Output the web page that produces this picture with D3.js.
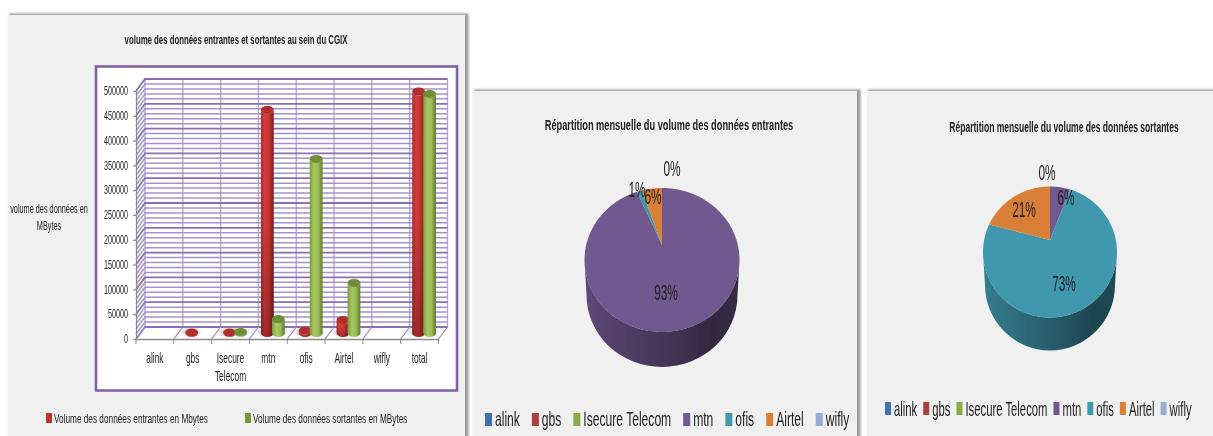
<!DOCTYPE html>
<html><head><meta charset="utf-8">
<script src="https://cdn.jsdelivr.net/npm/d3@7"></script>
<style>html,body{margin:0;padding:0;background:#fff;overflow:hidden}svg{display:block}text{font-family:"Liberation Sans",Arial,sans-serif;fill:#222}</style>
</head><body><svg id="c" width="1213" height="436"></svg>
<script>
// ---------- data ----------
const barCategories = ["alink","gbs","Isecure Telecom","mtn","ofis","Airtel","wifly","total"];
const incoming = [0,1000,1000,450000,5000,26000,0,487000];
const outgoing = [0,0,2000,28000,351000,101000,0,482000];
const barTitle = "volume des données entrantes et sortantes au sein du CGIX";
const yAxisTitle = ["volume des données en","MBytes"];
const seriesNames = ["Volume des données entrantes en Mbytes","Volume des données sortantes en MBytes"];
const yTicks = [0,50000,100000,150000,200000,250000,300000,350000,400000,450000,500000];
const yMinorTicks = d3.range(0,500001,10000);

const pieCategories = ["alink","gbs","Isecure Telecom","mtn","ofis","Airtel","wifly"];
const pieColors = ["#3f72ab","#b03f3c","#8aab47","#71588f","#4198af","#d97f37","#97abd3"];
const incomingShare = [0,0,0,93,1.4,5.6,0];
const outgoingShare = [0,0,0,6,73,21,0];
const pieTitleIn = "Répartition mensuelle du volume des données entrantes";
const pieTitleOut = "Répartition mensuelle du volume des données sortantes";

// ---------- helpers ----------
const svg = d3.select("#c");
const defs = svg.append("defs");
const blur = defs.append("filter").attr("id","soft").attr("filterUnits","userSpaceOnUse").attr("x",0).attr("y",0).attr("width",1213).attr("height",436);
blur.append("feGaussianBlur").attr("stdDeviation",0.55);
const sh = defs.append("filter").attr("id","sh").attr("x","-5%").attr("y","-5%").attr("width","110%").attr("height","110%");
sh.append("feGaussianBlur").attr("stdDeviation",1);
const sh2 = defs.append("filter").attr("id","sh2").attr("x","-60%").attr("y","-60%").attr("width","220%").attr("height","220%");
sh2.append("feGaussianBlur").attr("stdDeviation",1.6);
const root = svg.append("g").attr("filter","url(#soft)");

function label(g,str,x,y,size,squeeze,opt={}){
  const t=g.append("text").attr("transform",`translate(${x},${y}) scale(${squeeze},1)`).attr("font-size",size)
    .attr("text-anchor",opt.anchor||"middle").attr("dominant-baseline",opt.baseline||"central")
    .attr("font-weight",opt.weight||"normal").text(str);
  return t.node().getComputedTextLength()*squeeze;
}
function panel(x,y,w,h){
  root.append("rect").attr("x",x+1).attr("y",y-1.5).attr("width",w+2.5).attr("height",h+4).attr("fill","#999").attr("filter","url(#sh)");
  root.append("rect").attr("x",x).attr("y",y).attr("width",w).attr("height",h).attr("fill","#f0f0f0");
}
function hGrad(id,stops){
  const g=defs.append("linearGradient").attr("id",id).attr("x1",0).attr("x2",1).attr("y1",0).attr("y2",0);
  stops.forEach(([o,c])=>g.append("stop").attr("offset",o).attr("stop-color",c));
}

// ---------- left panel : 3D cylinders ----------
panel(8,15,457,425);
label(root,barTitle,236,39,13,0.60,{weight:"bold"});
root.append("rect").attr("x",96).attr("y",66.5).attr("width",361).attr("height",324).attr("fill","#fff").attr("stroke","#8064a2").attr("stroke-width",2.6);
yAxisTitle.forEach((s,i)=>label(root,s,49,209+i*17,12,0.61));

const dx=9, dy=-12;
const x=d3.scaleBand().domain(barCategories).range([136,438.5]);
const y=d3.scaleLinear().domain([0,500000]).range([339,91]);
const plot=root.append("g");

// floor
const line=d3.line();
plot.append("path").attr("d",line([[x.range()[0],y(0)],[x.range()[1],y(0)],[x.range()[1]+dx,y(0)+dy],[x.range()[0]+dx,y(0)+dy]])+"Z").attr("fill","#fff");

// wall gridlines
const bandEdges=barCategories.map(c=>x(c)).concat(x.range()[1]);
plot.selectAll(".wallv").data(bandEdges).join("line")
  .attr("x1",d=>d+dx).attr("x2",d=>d+dx).attr("y1",y(0)+dy).attr("y2",y(500000)+dy)
  .attr("stroke","#b5a7d0").attr("stroke-width",1.4);
plot.selectAll(".minor").data(yMinorTicks).join("path")
  .attr("d",v=>line([[x.range()[0],y(v)],[x.range()[0]+dx,y(v)+dy],[x.range()[1]+dx,y(v)+dy]]))
  .attr("fill","none").attr("stroke",v=>v%50000===0?"#8a6fb0":"#a792c8").attr("stroke-width",v=>v%50000===0?1.8:1.5);
plot.selectAll(".floor").data(bandEdges).join("line")
  .attr("x1",d=>d).attr("x2",d=>d+dx).attr("y1",y(0)).attr("y2",y(0)+dy)
  .attr("stroke","#9a86bc").attr("stroke-width",1.2);

// axes
const axL=plot.append("g").attr("transform",`translate(${x.range()[0]},0)`).call(d3.axisLeft(y).tickValues(yTicks).tickSize(3).tickFormat(d3.format("d")));
axL.selectAll("path,line").attr("stroke","#8c8c8c").attr("stroke-width",1.2);
axL.selectAll("text").remove();
yTicks.forEach(v=>label(plot,d3.format("d")(v),128,y(v),12,0.6,{anchor:"end"}));
const axB=plot.append("g").attr("transform",`translate(0,${y(0)})`).call(d3.axisBottom(x).tickSize(0).tickFormat(""));
axB.selectAll("path").attr("stroke","#8c8c8c").attr("stroke-width",1.4);
plot.selectAll(".xt").data(bandEdges).join("line").attr("x1",d=>d).attr("x2",d=>d).attr("y1",y(0)).attr("y2",y(0)+5).attr("stroke","#8c8c8c");
barCategories.forEach(c=>{
  const parts=c.split(" ");
  parts.forEach((p,i)=>label(plot,p,x(c)+x.bandwidth()/2,358+i*18,14,0.6));
});

// cylinders
hGrad("redH",[[0,"#a92d2c"],[0.3,"#d83c3a"],[0.6,"#c93533"],[1,"#7c1f1e"]]);
hGrad("greenH",[[0,"#7d9a3f"],[0.35,"#a8c85f"],[0.65,"#9bbb59"],[1,"#607a2d"]]);
const shadeV=defs.append("linearGradient").attr("id","shadeV").attr("x1",0).attr("x2",0).attr("y1",0).attr("y2",1);
shadeV.append("stop").attr("offset",0).attr("stop-color","#000").attr("stop-opacity",0);
shadeV.append("stop").attr("offset",0.5).attr("stop-color","#000").attr("stop-opacity",0.02);
shadeV.append("stop").attr("offset",1).attr("stop-color","#000").attr("stop-opacity",0.25);

const series=[
 {vals:incoming,off:-5.5,fill:"url(#redH)",cap:"#b12e2d",shade:true},
 {vals:outgoing,off:5.5,fill:"url(#greenH)",cap:"#6f8c35",shade:false}
];
const rx=6.4, ry=4;
const bars=root.append("g");
series.forEach(s=>barCategories.forEach((c,i)=>{
  if(!s.vals[i])return;
  bars.append("ellipse").attr("cx",x(c)+x.bandwidth()/2+dx/2+s.off-1).attr("cy",y(0)+dy/2-1).attr("rx",rx+3).attr("ry",ry).attr("fill","#aaa").attr("opacity",.5).attr("filter","url(#sh2)");
}));
series.forEach(s=>barCategories.forEach((c,i)=>{
  const v=s.vals[i]; if(!v)return;
  const cx=x(c)+x.bandwidth()/2+dx/2+s.off, y0=y(0)+dy/2, y1=y(v)+dy/2;
  const p=`M${cx-rx},${y1}L${cx-rx},${y0}A${rx},${ry} 0 0 0 ${cx+rx},${y0}L${cx+rx},${y1}A${rx},${ry} 0 0 1 ${cx-rx},${y1}Z`;
  bars.append("path").attr("d",p).attr("fill",s.fill);
  if(s.shade) bars.append("path").attr("d",p).attr("fill","url(#shadeV)");
  bars.append("ellipse").attr("cx",cx).attr("cy",y1).attr("rx",rx).attr("ry",ry).attr("fill",s.cap);
}));

// legend
[[46,54,"#c0312f"],[245,253,"#78983a"]].forEach(([sx,tx,col],i)=>{
  root.append("rect").attr("x",sx).attr("y",413).attr("width",6).attr("height",10).attr("fill",col);
  label(root,seriesNames[i],tx,418,13,0.635,{anchor:"start"});
});

// ---------- 3D pies ----------
function pie3d(o){
  panel(o.px,o.py,o.pw,o.ph);
  label(root,o.title,o.tx,o.ty,14,o.ts,{weight:"bold"});
  const g=root.append("g");
  const arcs=d3.pie().sort(null).startAngle(0).endAngle(2*Math.PI)(o.values.map(Number));
  const bottomArc=arcs.find(a=>a.startAngle<=Math.PI&&a.endAngle>Math.PI);
  const base=d3.color(o.colors[bottomArc.index]);
  const gid=o.id+"side";
  hGrad(gid,[[0,base.darker(0.55).formatHex()],[0.5,base.darker(1.35).formatHex()],[0.82,base.darker(2.2).formatHex()],[1,base.darker(2.1).formatHex()]]);
  const {cx,cy,rx,ry,depth,apexY}=o;
  const rb=rx-2;
  g.append("path").attr("d",`M${cx-rx},${cy}A${rx},${ry} 0 0 0 ${cx+rx},${cy}L${cx+rb},${cy+depth}A${rb},${ry} 0 0 1 ${cx-rb},${cy+depth}Z`).attr("fill",`url(#${gid})`);
  const py=apexY-cy;
  const rim=a=>{
    const ux=Math.sin(a),uy=-Math.cos(a);
    const A=ux*ux/(rx*rx)+uy*uy/(ry*ry),B=2*py*uy/(ry*ry),C=py*py/(ry*ry)-1;
    const t=(-B+Math.sqrt(B*B-4*A*C))/(2*A);
    return [cx+t*ux,apexY+t*uy];
  };
  arcs.filter(a=>a.value>0).forEach(a=>{
    const n=Math.max(2,Math.ceil((a.endAngle-a.startAngle)*40));
    const pts=d3.range(n+1).map(i=>rim(a.startAngle+(a.endAngle-a.startAngle)*i/n));
    g.append("path").attr("d",d3.line()([[cx,apexY],...pts])+"Z").attr("fill",o.colors[a.index]);
  });
  o.labels.forEach(l=>{
    const i=o.cats.indexOf(l.cat);
    label(g,Math.round(o.values[i])+"%",l.x,l.y,22,0.54);
  });
  let lx=o.lx;
  o.cats.forEach((c,i)=>{
    g.append("rect").attr("x",lx).attr("y",o.ly).attr("width",o.sw).attr("height",13).attr("fill",o.colors[i]);
    lx+=o.sw+3;
    lx+=label(g,c,lx,o.ly+6.5,20,o.ls,{anchor:"start"})+o.gap;
  });
}
pie3d({id:"a",px:473,py:91,pw:384,ph:350,title:pieTitleIn,tx:669,ty:125,ts:0.66,
  values:incomingShare,cats:pieCategories,colors:pieColors,
  cx:662,cy:260,rx:77.5,ry:72,depth:35,apexY:245,
  labels:[{cat:"wifly",x:672,y:169},{cat:"ofis",x:637,y:190},{cat:"Airtel",x:653,y:197},{cat:"mtn",x:666,y:293}],
  lx:485,ly:413,sw:7,gap:12,ls:0.605});
pie3d({id:"b",px:867,py:91,pw:346,ph:350,title:pieTitleOut,tx:1064,ty:127,ts:0.61,
  values:outgoingShare,cats:pieCategories,colors:pieColors,
  cx:1050,cy:252,rx:67,ry:65.5,depth:33,apexY:240,
  labels:[{cat:"wifly",x:1047,y:173},{cat:"mtn",x:1066,y:198},{cat:"Airtel",x:1024,y:210},{cat:"ofis",x:1064,y:284}],
  lx:885,ly:402,sw:6,gap:6,ls:0.565});
</script></body></html>
